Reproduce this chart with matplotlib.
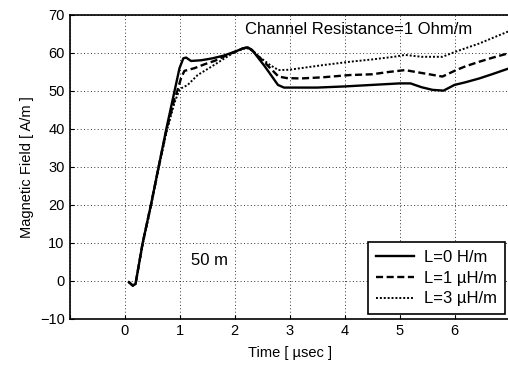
import matplotlib
matplotlib.use("Agg")
import matplotlib.pyplot as plt

plt.rcParams['font.family'] = ['Liberation Sans', 'DejaVu Sans']

# L = 0 H/m
t0 = [0.08, 0.15, 0.2, 0.33, 0.48, 0.62, 0.76, 0.91, 1.0, 1.07, 1.12, 1.21, 1.4, 1.6, 1.8, 2.0, 2.15,
      2.24, 2.32, 2.55, 2.79, 2.9, 3.5, 4.0, 4.5, 5.0, 5.2, 5.4, 5.6, 5.8, 6.0, 6.2, 6.45, 6.7, 7.0]
b0 = [-0.3, -1.2, -0.8, 10, 20, 30, 40, 50, 56, 58.6, 58.8, 57.9, 58.1, 58.6, 59.3, 60.3, 61.2,
      61.5, 60.8, 56.5, 51.6, 50.9, 50.9, 51.2, 51.6, 52.0, 52.0, 51.0, 50.3, 50.1, 51.6, 52.3, 53.3,
      54.5, 56.0]

# L = 1 uH/m
t1 = [0.08, 0.15, 0.2, 0.33, 0.48, 0.62, 0.76, 0.91, 0.96, 1.03, 1.09, 1.27, 1.45, 1.65, 1.8, 2.0,
      2.15, 2.24, 2.35, 2.55, 2.8, 2.95, 3.2, 3.6, 4.1, 4.5, 4.8, 5.1, 5.3, 5.5, 5.78, 6.03, 6.2, 6.45,
      6.7, 7.0]
b1 = [-0.3, -1.2, -0.8, 10, 20, 30, 39.5, 48, 50, 53.5, 55.3, 56.0, 57.0, 58.0, 59.0, 60.3,
      61.2, 61.5, 60.3, 57.5, 53.8, 53.4, 53.3, 53.6, 54.2, 54.4, 55.0, 55.5, 55.0, 54.5, 53.8, 55.5,
      56.5, 57.7, 58.8, 60.0]

# L = 3 uH/m
t3 = [0.08, 0.15, 0.2, 0.33, 0.48, 0.62, 0.76, 0.91, 1.0, 1.03, 1.15, 1.33, 1.58, 1.82, 2.0, 2.2,
      2.3, 2.45, 2.65, 2.8, 3.0, 3.2, 3.6, 4.1, 4.5, 4.9, 5.1, 5.4, 5.78, 6.03, 6.25, 6.45, 6.7, 7.0]
b3 = [-0.3, -1.2, -0.8, 9.5, 19.5, 29.5, 39, 47, 50.3, 50.7, 51.6, 54.2, 56.4, 58.6, 60.2, 61.3,
      61.0, 59.0, 56.8, 55.5, 55.6, 56.0, 56.8, 57.7, 58.3, 59.0, 59.5, 59.0, 59.0, 60.4, 61.5, 62.5,
      64.0, 65.8]

labels = ["L=0 H/m", "L=1 \u00b5H/m", "L=3 \u00b5H/m"]

fig = plt.figure(figsize=(5.08, 3.68), dpi=100)
ax = fig.add_axes([69.5 / 508, 49 / 368, 440 / 508, 304 / 368])

ax.plot(t0, b0, color="k", lw=1.7, ls="-", label=labels[0])
ax.plot(t1, b1, color="k", lw=1.7, ls=(0, (3, 1.5)), label=labels[1])
ax.plot(t3, b3, color="k", lw=1.4, ls=(0, (1, 1)), label=labels[2])

ax.set_xlim(-1, 7)
ax.set_ylim(-10, 70)
ax.set_xticks([-1, 0, 1, 2, 3, 4, 5, 6, 7])
ax.set_xticklabels(["", "0", "1", "2", "3", "4", "5", "6", ""])
ax.set_yticks(range(-10, 71, 10))
ax.tick_params(direction="in", length=3, labelsize=10.5, colors="k")
ax.grid(True, color="k", ls=(0, (1, 2.5)), lw=0.7, alpha=0.8)

for s in ax.spines.values():
    s.set_linewidth(1.2)

ax.set_xlabel("Time [ \u00b5sec ]", fontsize=10.5, labelpad=6)
ax.set_ylabel("Magnetic Field [ A/m ]", fontsize=10.5)

ax.text(4.25, 66.2, "Channel Resistance=1 Ohm/m", fontsize=12, ha="center", va="center")
ax.text(1.55, 5.5, "50 m", fontsize=12, ha="center", va="center")

leg = ax.legend(loc="lower right", fontsize=12, handlelength=2.3, handletextpad=0.6,
                fancybox=False, framealpha=1, edgecolor="k", borderaxespad=0.3,
                labelspacing=0.35, borderpad=0.45)
leg.get_frame().set_linewidth(1.2)

fig.savefig("out.png", dpi=100)
